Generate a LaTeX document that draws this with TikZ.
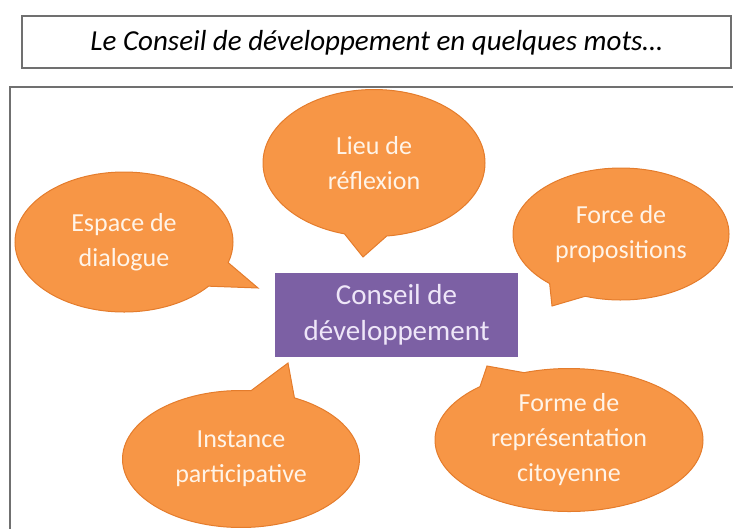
\documentclass[tikz,border=0pt]{standalone}
\usepackage{fontspec}
\setmainfont{Carlito}
\usepackage{tikz}
\usetikzlibrary{shapes.callouts}
\definecolor{orangebulle}{RGB}{247,150,70}
\definecolor{bordbulle}{RGB}{228,124,44}
\definecolor{violetconseil}{RGB}{124,96,164}
\definecolor{grisbord}{RGB}{112,112,112}
\tikzstyle{bulle}=[ellipse callout, fill=orangebulle, draw=bordbulle, line width=1pt, inner sep=0pt, callout pointer arc=22, text={rgb,255:red,255;green,244;blue,232}, align=center, font=\fontsize{26}{35}\selectfont]
\tikzstyle{conseil}=[rectangle, fill=violetconseil, minimum width=243pt, minimum height=84pt, text={rgb,255:red,238;green,230;blue,248}, align=center, font=\fontsize{29}{36}\selectfont]
\tikzstyle{cadre}=[draw=grisbord, line width=1.5pt]

\begin{document}
\begin{tikzpicture}[x=1pt, y=-1pt]
        \useasboundingbox (0,0) rectangle (733,528);
        \draw[cadre] (22,16) rectangle (731,68);
        \node[font=\fontsize{29}{34}\selectfont\itshape] (T) at (376.5,43) {Le Conseil de développement en quelques mots…};
        \draw[cadre, line width=2pt] (10,87) rectangle (745,545);
        \node[conseil] (C) at (396.5,315) {Conseil de\\développement};
        \node[bulle, minimum width=222pt, minimum height=147pt,
            callout absolute pointer={(363,257)}] (L) at (374,163) {Lieu de\\réflexion};
        \node[bulle, minimum width=218pt, minimum height=140pt,
            callout absolute pointer={(258,288)}] (E) at (124,242) {Espace de\\dialogue};
        \node[bulle, minimum width=216pt, minimum height=132pt,
            callout absolute pointer={(552,306)}] (F) at (621,234) {Force de\\propositions};
        \node[bulle, minimum width=237pt, minimum height=137pt,
            callout absolute pointer={(288,363)}] (I) at (241,459) {Instance\\participative};
        \node[bulle, minimum width=268pt, minimum height=143pt,
            callout absolute pointer={(487,366)}] (R) at (569,440) {Forme de\\représentation\\citoyenne};
\end{tikzpicture}
\end{document}
